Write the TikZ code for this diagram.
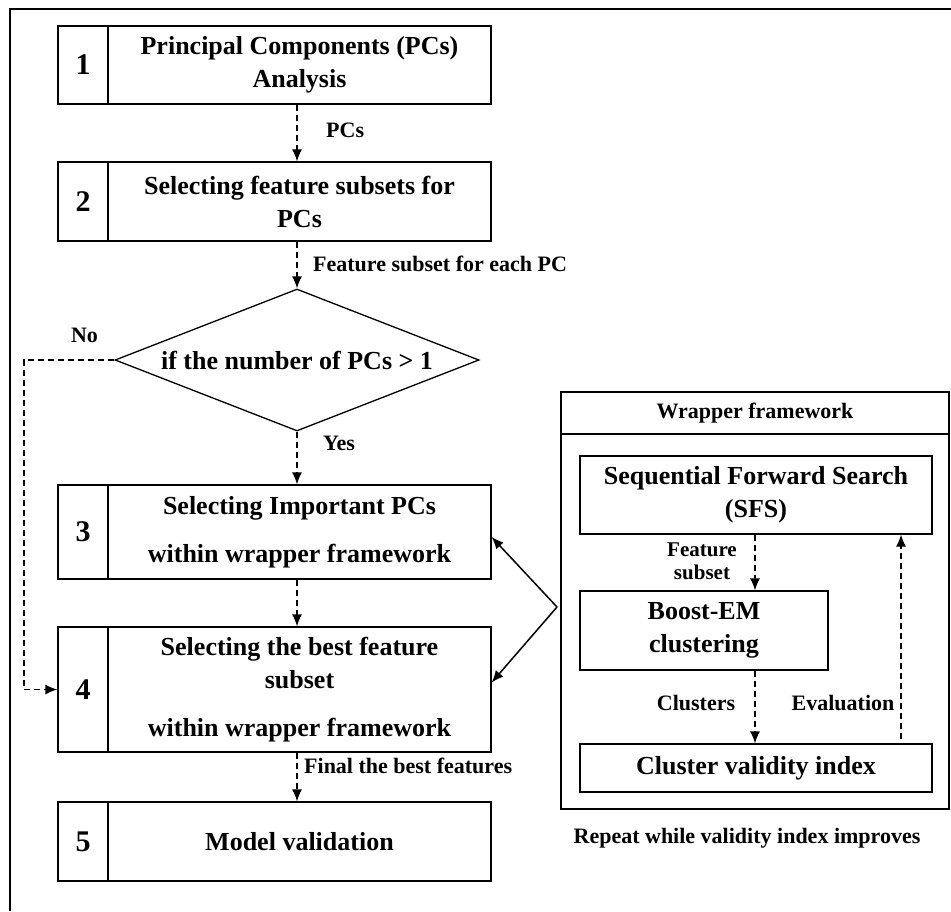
\documentclass[tikz,border=0pt]{standalone}
\usepackage{fontspec}
\setmainfont{Liberation Serif}
\usetikzlibrary{shapes.geometric,arrows.meta,calc}
\begin{document}
\begin{tikzpicture}[x=1pt,y=-1pt,
  box/.style={draw,line width=1.3pt,inner sep=0pt,align=center,font=\fontsize{26}{33}\selectfont\bfseries},
  numbox/.style={draw,line width=1.3pt,inner sep=0pt,minimum width=50pt,font=\fontsize{30}{36}\selectfont\bfseries},
  lbl/.style={font=\fontsize{22}{26}\selectfont\bfseries,inner sep=0pt},
  dasharrow/.style={line width=1.3pt,dash pattern=on 6pt off 4pt,-{Latex[length=12pt,width=10pt]}},
  solidarrow/.style={line width=1.5pt,-{Latex[length=12pt,width=10pt]}}]

\useasboundingbox (0,0) rectangle (951,911);
\draw[line width=1.3pt] (951,9) -- (10,9) -- (10,911);

% left column
\node[box,minimum width=383pt,minimum height=78pt] (b1) at (299.5,65) {Principal Components (PCs)\\Analysis};
\node[numbox,minimum height=78pt] (n1) at (83,65) {1};

\node[box,minimum width=383pt,minimum height=79pt] (b2) at (299.5,201.5) {Selecting feature subsets for\\PCs};
\node[numbox,minimum height=79pt] (n2) at (83,201.5) {2};

\node[diamond,draw,line width=1.3pt,aspect=2.56,minimum width=364pt,minimum height=142pt,inner sep=0pt,font=\fontsize{26}{33}\selectfont\bfseries] (d) at (297,360) {if the number of PCs > 1};

\node[box,minimum width=383pt,minimum height=94pt] (b3) at (299.5,532) {Selecting Important PCs\\[15pt]within wrapper framework};
\node[numbox,minimum height=94pt] (n3) at (83,532) {3};

\node[box,minimum width=383pt,minimum height=125pt] (b4) at (299.5,689.5) {Selecting the best feature\\subset\\[15pt]within wrapper framework};
\node[numbox,minimum height=125pt] (n4) at (83,689.5) {4};

\node[box,minimum width=383pt,minimum height=79pt] (b5) at (299.5,841.5) {Model validation};
\node[numbox,minimum height=79pt] (n5) at (83,841.5) {5};

% left connectors
\draw[dasharrow] (b1.south -| d) -- (b2.north -| d);
\node[lbl,anchor=west] (lpcs) at (326,130) {PCs};
\draw[dasharrow] (b2.south -| d) -- (d.north);
\node[lbl,anchor=west] (lfs) at (313,264) {Feature subset for each PC};
\draw[dasharrow] (d.south) -- (b3.north -| d);
\node[lbl,anchor=west] (lyes) at (323,443) {Yes};
\coordinate (nocorner) at (24,360);
\draw[dasharrow] (d.west) -- (nocorner) |- (n4.west);
\node[lbl] (lno) at (84.5,335) {No};
\draw[dasharrow] (b3.south -| d) -- (b4.north -| d);
\draw[dasharrow] (b4.south -| d) -- (b5.north -| d);
\node[lbl,anchor=west] (lfinal) at (304,766) {Final the best features};

% wrapper
\node[draw,line width=1.3pt,minimum width=388pt,minimum height=417pt] (wrap) at (755,600.5) {};
\node[draw,line width=1.3pt,minimum width=388pt,minimum height=42pt,font=\fontsize{22}{26}\selectfont\bfseries] (hdr) at (755,413) {Wrapper framework};

\node[box,minimum width=352pt,minimum height=78pt] (sfs) at (756,495) {Sequential Forward Search\\(SFS)};
\node[box,minimum width=248pt,minimum height=79pt] (boost) at (704,630.5) {Boost-EM\\clustering};
\node[box,minimum width=352pt,minimum height=48pt] (cvi) at (756,768) {Cluster validity index};

\coordinate (midx) at (755,0);
\coordinate (evx) at (901,0);
\draw[dasharrow] (sfs.south -| midx) -- (boost.north -| midx);
\node[lbl,align=center,font=\fontsize{21}{23}\selectfont\bfseries] (lfsub) at (702,561) {Feature\\subset};
\draw[dasharrow] (boost.south -| midx) -- (cvi.north -| midx);
\node[lbl] (lclus) at (696,703) {Clusters};
\draw[dasharrow] ($(cvi.north -| evx)+(0,-4)$) -- (sfs.south -| evx);
\node[lbl] (leval) at (843,703) {Evaluation};

\node[lbl] (lrep) at (747,838) {Repeat while validity index improves};

% solid feedback arrows
\coordinate (hub) at (557,607);
\draw[solidarrow] (hub) -- ($(b3.east)+(0,5)$);
\draw[solidarrow] (hub) -- ($(b4.east)+(0,-7)$);
\end{tikzpicture}
\end{document}
